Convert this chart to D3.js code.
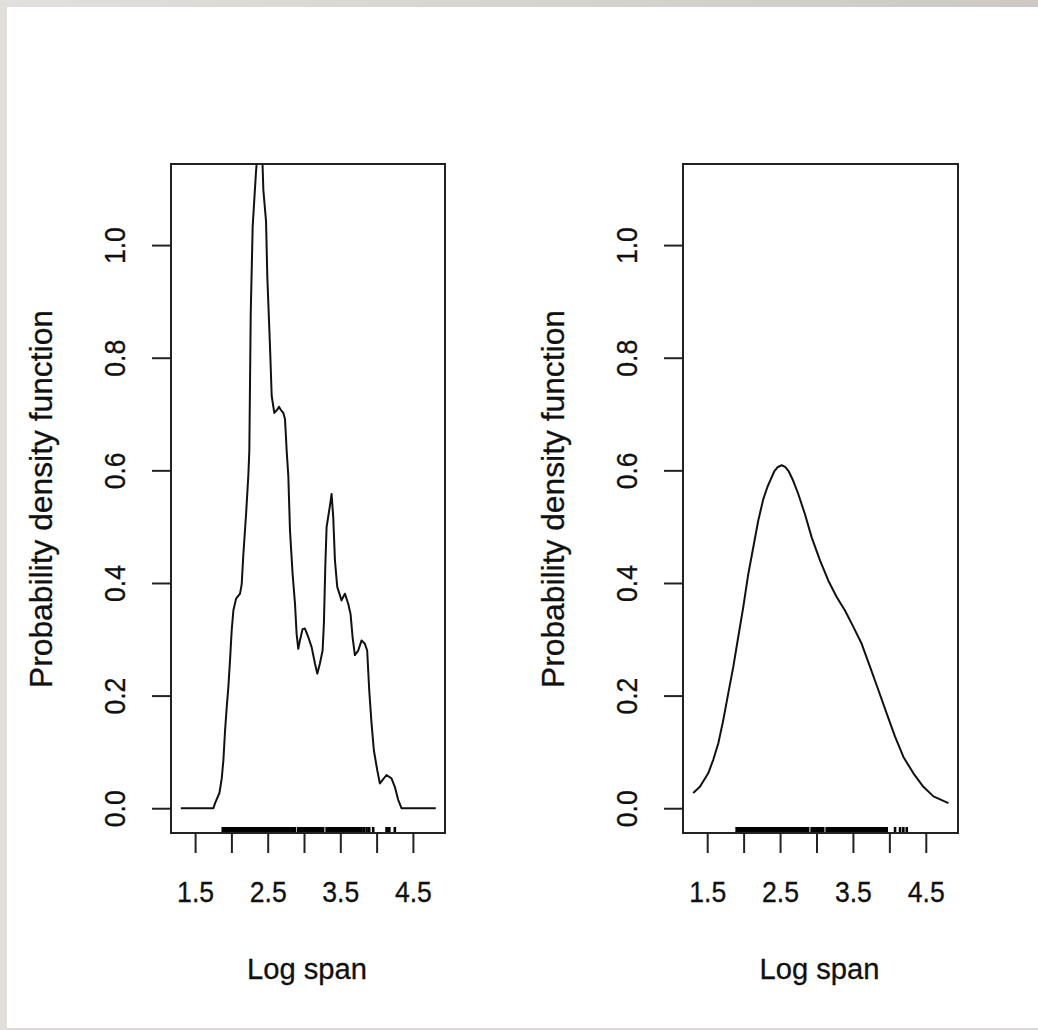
<!DOCTYPE html>
<html>
<head>
<meta charset="utf-8">
<script src="https://cdn.jsdelivr.net/npm/d3@7"></script>
<style>
  html, body { margin: 0; padding: 0; background: #ffffff; }
  svg { display: block; }
  text { font-family: "Liberation Sans", Arial, sans-serif; fill: #111; }
</style>
</head>
<body>
<svg id="chart" width="1038" height="1030"></svg>
<script>
// ---------- data ----------
const xTickValues = [1.5, 2, 2.5, 3, 3.5, 4, 4.5];
const xTickLabels = ["1.5", "", "2.5", "", "3.5", "", "4.5"];
const yTickValues = [0, 0.2, 0.4, 0.6, 0.8, 1.0];
const yTickLabels = ["0.0", "0.2", "0.4", "0.6", "0.8", "1.0"];
const xLabel = "Log span";
const yLabel = "Probability density function";

// left panel: narrow-bandwidth density
const leftX = [1.303, 1.752, 1.775, 1.835, 1.867, 1.890, 1.913, 1.936, 1.958, 1.981, 2.004, 2.027, 2.064, 2.119, 2.142, 2.165, 2.202, 2.234, 2.247, 2.266, 2.293, 2.339, 2.365, 2.395, 2.425, 2.440, 2.477, 2.495, 2.532, 2.555, 2.591, 2.633, 2.655, 2.678, 2.715, 2.738, 2.752, 2.761, 2.784, 2.807, 2.843, 2.876, 2.898, 2.921, 2.944, 2.980, 3.013, 3.059, 3.105, 3.151, 3.183, 3.219, 3.256, 3.274, 3.293, 3.311, 3.357, 3.380, 3.403, 3.426, 3.458, 3.517, 3.563, 3.609, 3.641, 3.669, 3.701, 3.747, 3.793, 3.838, 3.870, 3.898, 3.930, 3.962, 4.008, 4.045, 4.081, 4.136, 4.205, 4.251, 4.297, 4.343, 4.815];
const leftY = [0.000, 0.000, 0.009, 0.027, 0.053, 0.086, 0.139, 0.180, 0.215, 0.263, 0.316, 0.351, 0.372, 0.381, 0.398, 0.452, 0.522, 0.593, 0.635, 0.877, 1.033, 1.131, 1.170, 1.190, 1.160, 1.098, 1.042, 0.942, 0.818, 0.732, 0.702, 0.708, 0.713, 0.708, 0.702, 0.691, 0.658, 0.635, 0.590, 0.493, 0.416, 0.363, 0.310, 0.283, 0.298, 0.318, 0.319, 0.304, 0.286, 0.257, 0.239, 0.257, 0.280, 0.328, 0.428, 0.499, 0.537, 0.558, 0.516, 0.440, 0.393, 0.369, 0.381, 0.363, 0.345, 0.304, 0.272, 0.280, 0.298, 0.292, 0.280, 0.210, 0.151, 0.103, 0.068, 0.044, 0.050, 0.059, 0.053, 0.038, 0.015, 0.000, 0.000];

// right panel: smooth density
const rightX = [1.308, 1.400, 1.514, 1.583, 1.652, 1.720, 1.789, 1.858, 1.926, 1.995, 2.064, 2.132, 2.201, 2.270, 2.325, 2.361, 2.420, 2.470, 2.522, 2.570, 2.620, 2.682, 2.750, 2.842, 2.934, 3.048, 3.163, 3.277, 3.391, 3.506, 3.620, 3.735, 3.849, 3.964, 4.078, 4.193, 4.330, 4.467, 4.605, 4.811];
const rightY = [0.027, 0.038, 0.062, 0.086, 0.115, 0.156, 0.204, 0.251, 0.304, 0.357, 0.416, 0.463, 0.511, 0.549, 0.570, 0.581, 0.598, 0.606, 0.609, 0.606, 0.598, 0.581, 0.558, 0.522, 0.481, 0.440, 0.404, 0.375, 0.351, 0.322, 0.292, 0.251, 0.210, 0.168, 0.127, 0.091, 0.062, 0.038, 0.021, 0.009];

// rug observations
const leftRug = [1.881,
  1.913, 1.933, 1.953, 1.973, 1.993, 2.013, 2.033, 2.053, 2.073, 2.093, 2.113, 2.133, 2.153, 2.173, 2.193, 2.213, 2.233, 2.255,
  2.280, 2.300, 2.320, 2.340, 2.360, 2.380, 2.400, 2.420, 2.440, 2.460, 2.480, 2.500, 2.520, 2.540, 2.560, 2.580, 2.600, 2.620, 2.640, 2.660, 2.680, 2.700, 2.720, 2.740, 2.760, 2.780, 2.800, 2.828,
  2.852, 2.876,
  2.921, 2.941, 2.961, 2.981, 3.001, 3.021, 3.041, 3.061, 3.081, 3.101, 3.121, 3.141, 3.161, 3.181, 3.201, 3.221, 3.241, 3.263,
  3.312, 3.332, 3.352, 3.372, 3.392, 3.412, 3.432, 3.452, 3.472, 3.492, 3.512, 3.532, 3.552, 3.572, 3.592, 3.612, 3.632, 3.654,
  3.677, 3.697, 3.717, 3.740, 3.760, 3.780, 3.793,
  3.824, 3.862, 3.898, 3.953,
  4.137, 4.155, 4.175, 4.251];

const rightRug = [1.904, 1.924, 1.944, 1.964, 1.984, 2.004, 2.024, 2.044, 2.064, 2.084, 2.104, 2.124, 2.144, 2.164, 2.184, 2.204, 2.224, 2.244, 2.264, 2.284, 2.304, 2.324, 2.344, 2.364, 2.384, 2.404, 2.424, 2.444, 2.464, 2.484, 2.504, 2.524, 2.544, 2.564, 2.584, 2.604, 2.624, 2.644, 2.664, 2.684, 2.704, 2.724, 2.744, 2.764, 2.784, 2.804, 2.824, 2.844, 2.864, 2.885,
  2.934, 2.954, 2.974, 2.994, 3.014, 3.034, 3.054, 3.074, 3.092,
  3.140, 3.160, 3.180, 3.200, 3.220, 3.240, 3.254,
  3.277, 3.297, 3.317, 3.337, 3.357, 3.377, 3.397, 3.417, 3.437, 3.457, 3.477, 3.497, 3.517, 3.537, 3.557, 3.577, 3.597, 3.617, 3.637, 3.657, 3.677, 3.690,
  3.712, 3.732, 3.752, 3.772, 3.792, 3.812, 3.832, 3.852, 3.872, 3.892, 3.912, 3.932, 3.952, 3.964,
  4.078, 4.147, 4.192, 4.239];

// ---------- drawing ----------
const svg = d3.select("#chart");
const W = 1038, H = 1030;

// slide-like grey surround
const defs = svg.append("defs");
const grad = defs.append("linearGradient").attr("id", "bg").attr("x1", "0").attr("x2", "1").attr("y1", "0").attr("y2", "0");
grad.append("stop").attr("offset", "0").attr("stop-color", "#e2e0dc");
grad.append("stop").attr("offset", "1").attr("stop-color", "#cdc8c2");
svg.append("rect").attr("x", 0).attr("y", 0).attr("width", W).attr("height", H).attr("fill", "url(#bg)");
svg.append("rect").attr("x", 0).attr("y", 0).attr("width", 7).attr("height", H).attr("fill", "#e1dfdb");
svg.append("rect").attr("x", 7).attr("y", 1028).attr("width", W - 7).attr("height", 2).attr("fill", "#dcdad6");
svg.append("rect").attr("x", 7).attr("y", 7).attr("width", W - 7).attr("height", 1021).attr("fill", "#ffffff");

const plotTop = 164, plotBottom = 833;
const y = d3.scaleLinear().domain([-0.044, 1.144]).range([plotBottom, plotTop]);
const xDomain = [1.168, 4.942];
const textFill = "#0d0d0d";

function drawPanel(idx, left, right, xs, ys, rug) {
  const g = svg.append("g");
  const x = d3.scaleLinear().domain(xDomain).range([left, right]);

  const clipId = "clip" + idx;
  defs.append("clipPath").attr("id", clipId)
    .append("rect").attr("x", left).attr("y", plotTop).attr("width", right - left).attr("height", plotBottom - plotTop);

  // density curve
  const pts = xs.map((v, i) => [v, ys[i]]);
  g.append("path")
    .attr("clip-path", `url(#${clipId})`)
    .attr("d", d3.line().x(d => x(d[0])).y(d => y(d[1]))(pts))
    .attr("fill", "none")
    .attr("stroke", "#111")
    .attr("stroke-width", 2)
    .attr("stroke-linejoin", "round");

  // rug
  g.append("g").selectAll("line").data(rug).join("line")
    .attr("x1", d => x(d)).attr("x2", d => x(d))
    .attr("y1", plotBottom - 6).attr("y2", plotBottom)
    .attr("stroke", "#000").attr("stroke-width", 2.6);

  // x axis
  const xa = g.append("g").attr("transform", `translate(0,${plotBottom})`)
    .call(d3.axisBottom(x).tickValues(xTickValues).tickSize(20).tickPadding(0)
      .tickFormat((d, i) => xTickLabels[i]));
  xa.select(".domain").remove();
  xa.selectAll(".tick line").attr("stroke", "#222").attr("stroke-width", 2);
  xa.selectAll(".tick text")
    .attr("y", 69).attr("dy", null)
    .style("font-size", "30px")
    .attr("fill", textFill)
    .attr("stroke", textFill).attr("stroke-width", 0.3)
    .attr("textLength", function () { return this.textContent ? 37 : null; })
    .attr("lengthAdjust", "spacingAndGlyphs");

  // y axis
  const ya = g.append("g").attr("transform", `translate(${left},0)`)
    .call(d3.axisLeft(y).tickValues(yTickValues).tickSize(19).tickPadding(0)
      .tickFormat((d, i) => yTickLabels[i]));
  ya.select(".domain").remove();
  ya.selectAll(".tick line").attr("stroke", "#222").attr("stroke-width", 2);
  ya.selectAll(".tick text")
    .attr("x", null).attr("dy", null)
    .attr("text-anchor", "middle")
    .attr("transform", `translate(-46,0) rotate(-90)`)
    .style("font-size", "30px")
    .attr("fill", textFill)
    .attr("stroke", textFill).attr("stroke-width", 0.3)
    .attr("textLength", 37)
    .attr("lengthAdjust", "spacingAndGlyphs");

  // frame
  g.append("rect")
    .attr("x", left).attr("y", plotTop).attr("width", right - left).attr("height", plotBottom - plotTop)
    .attr("fill", "none").attr("stroke", "#222").attr("stroke-width", 2);

  // axis titles
  g.append("text")
    .attr("x", (left + right) / 2 - 1).attr("y", 979)
    .attr("text-anchor", "middle")
    .style("font-size", "30px")
    .attr("fill", textFill)
    .attr("stroke", textFill).attr("stroke-width", 0.3)
    .attr("textLength", 120).attr("lengthAdjust", "spacingAndGlyphs")
    .text(xLabel);

  g.append("text")
    .attr("transform", `translate(${left - 119},499) rotate(-90)`)
    .attr("text-anchor", "middle")
    .style("font-size", "31px")
    .attr("fill", textFill)
    .attr("stroke", textFill).attr("stroke-width", 0.3)
    .attr("textLength", 378).attr("lengthAdjust", "spacingAndGlyphs")
    .text(yLabel);
}

drawPanel(0, 171, 445, leftX, leftY, leftRug);
drawPanel(1, 683, 958, rightX, rightY, rightRug);
</script>
</body>
</html>
